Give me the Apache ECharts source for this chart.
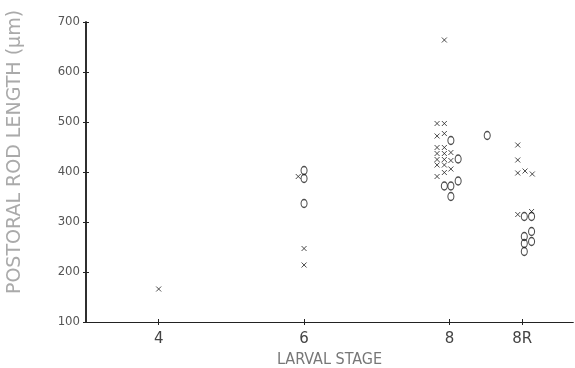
<!DOCTYPE html>
<html>
<head>
<meta charset="utf-8">
<script src="https://cdn.jsdelivr.net/npm/echarts@6/dist/echarts.min.js"></script>
<style>
  html, body { margin: 0; padding: 0; background: #fff; }
  #chart { width: 575px; height: 368px; }
</style>
</head>
<body>
<div id="chart"></div>
<script>
// larval stage ticks (8R drawn at 9)
const stageTicks = [4, 6, 8, 9];
const stageLabels = ['4', '6', '8', '8R'];
const lengthTicks = [100, 200, 300, 400, 500, 600, 700];

// "x" marks
const crossStage = [4, 5.92, 6, 6, 7.93, 7.83, 7.93, 7.83, 7.93, 7.83, 7.93,
    7.83, 7.93, 8.02, 7.83, 7.93, 8.02, 7.83, 7.93, 8.02, 7.83, 7.93,
    8.94, 8.94, 8.94, 9.04, 9.14, 8.94, 9.13];
const crossLength = [166, 391, 247, 214, 664, 497, 497, 472, 477, 449, 449,
    437, 437, 439, 425, 425, 423, 414, 414, 406, 391, 399,
    454, 424, 398, 402, 396, 315, 321];

// "o" marks
const circleStage = [6, 6, 6, 8.02, 8.12, 7.93, 8.02, 8.12, 8.02, 8.52,
    9.03, 9.13, 9.03, 9.03, 9.03, 9.13, 9.13];
const circleLength = [403, 387, 337, 463, 426, 372, 372, 382, 351, 473,
    311, 311, 271, 257, 241, 281, 261];

const ink = '#222';

const pairs = (xs, ys) => xs.map((x, i) => [x, ys[i]]);

const chart = echarts.init(document.getElementById('chart'));

const baseX = {
    type: 'value',
    min: 3,
    max: 9.7,
    splitLine: { show: false },
    axisLine: { lineStyle: { color: ink, width: 1.2 } }
};
const baseY = {
    type: 'value',
    min: 100,
    max: 700,
    interval: 100,
    splitLine: { show: false },
    axisLine: { lineStyle: { color: ink, width: 1.5 } }
};

chart.setOption({
    animation: false,
    grid: { left: 86, right: 2, top: 22, bottom: 46, containLabel: false, outerBoundsMode: 'none' },
    xAxis: [
        Object.assign({}, baseX, {
            name: 'LARVAL STAGE',
            nameLocation: 'middle',
            nameGap: 29,
            nameTextStyle: { fontFamily: 'DejaVu Sans Condensed', fontSize: 16, color: '#777' },
            axisTick: { customValues: stageTicks, length: 3, lineStyle: { color: ink } },
            axisLabel: {
                customValues: stageTicks,
                formatter: v => stageLabels[stageTicks.indexOf(v)],
                fontFamily: 'DejaVu Sans', fontSize: 15, color: '#444', margin: 10
            }
        }),
        Object.assign({}, baseX, {
            position: 'bottom',
            axisTick: { customValues: stageTicks, inside: true, length: 3, lineStyle: { color: ink } },
            axisLabel: { show: false }
        })
    ],
    yAxis: [
        Object.assign({}, baseY, {
            axisTick: { length: 3, lineStyle: { color: ink } },
            axisLabel: {
                formatter: v => lengthTicks.includes(v) ? String(v) : '',
                fontFamily: 'DejaVu Sans Condensed', fontSize: 13, color: '#555', margin: 6
            }
        }),
        Object.assign({}, baseY, {
            position: 'left',
            axisTick: { inside: true, length: 3, lineStyle: { color: ink } },
            axisLabel: { show: false }
        })
    ],
    graphic: [{
        type: 'text',
        x: 15,
        y: 152,
        rotation: Math.PI / 2,
        style: {
            text: 'POSTORAL ROD LENGTH (µm)',
            fontFamily: 'DejaVu Sans',
            fontSize: 19,
            fill: '#aaa',
            align: 'center',
            verticalAlign: 'middle'
        }
    }],
    series: [
        {
            type: 'scatter',
            name: 'x',
            symbol: 'path://M0,0L10,10M10,0L0,10',
            symbolSize: [5, 5],
            itemStyle: { color: 'transparent', borderColor: ink, borderWidth: 1 },
            data: pairs(crossStage, crossLength)
        },
        {
            type: 'scatter',
            name: 'o',
            symbol: 'circle',
            symbolSize: [6, 8],
            itemStyle: { color: 'transparent', borderColor: ink, borderWidth: 1.2 },
            data: pairs(circleStage, circleLength)
        }
    ]
});
</script>
</body>
</html>
